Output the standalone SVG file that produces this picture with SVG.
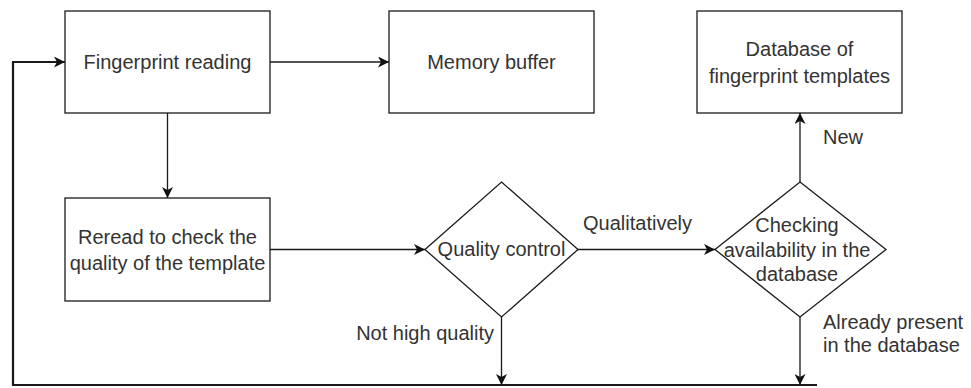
<svg xmlns="http://www.w3.org/2000/svg" width="971" height="388" viewBox="0 0 971 388">
  <style>
    .box { fill: #ffffff; stroke: #1a1a1a; stroke-width: 1.3; }
    .lbl { font-family: "Liberation Sans", Arial, sans-serif; font-size: 20px; fill: #333333; }
    .mid { text-anchor: middle; }
    .end { text-anchor: end; }
    .edge { fill: none; stroke: #1a1a1a; stroke-width: 1.3; }
    .loop { fill: none; stroke: #1a1a1a; stroke-width: 2.2; }
  </style>
  <defs>
    <marker id="arrow" markerUnits="userSpaceOnUse" markerWidth="12" markerHeight="11" refX="11" refY="5.5" orient="auto">
      <path d="M0,0 L11,5.5 L0,11 L3,5.5 Z" fill="#111111"/>
    </marker>
  </defs>

  <!-- process boxes -->
  <g id="fingerprint-reading">
    <rect class="box" x="65" y="11" width="205" height="102"/>
    <text class="lbl mid" x="167.5" y="69">Fingerprint reading</text>
  </g>
  <g id="memory-buffer">
    <rect class="box" x="389" y="11" width="205" height="102"/>
    <text class="lbl mid" x="491.5" y="69">Memory buffer</text>
  </g>
  <g id="database">
    <rect class="box" x="697" y="11" width="205" height="102"/>
    <text class="lbl mid" x="799.5" y="56">Database of</text>
    <text class="lbl mid" x="799.5" y="83">fingerprint templates</text>
  </g>
  <g id="reread">
    <rect class="box" x="65" y="198" width="205" height="103"/>
    <text class="lbl mid" x="167.5" y="244">Reread to check the</text>
    <text class="lbl mid" x="167.5" y="270">quality of the template</text>
  </g>

  <!-- decisions -->
  <g id="quality-control">
    <polygon class="box" points="501.5,182 578,249.5 501.5,317 425,249.5"/>
    <text class="lbl mid" x="501.5" y="256">Quality control</text>
  </g>
  <g id="checking-availability">
    <polygon class="box" points="800,182 886,249.5 800,317 715,249.5"/>
    <text class="lbl mid" x="797" y="232">Checking</text>
    <text class="lbl mid" x="797" y="257">availability in the</text>
    <text class="lbl mid" x="797" y="281">database</text>
  </g>

  <!-- connectors -->
  <g id="connectors">
    <path class="edge" d="M270,62 L389,62" marker-end="url(#arrow)"/>
    <path class="edge" d="M167.5,113 L167.5,198" marker-end="url(#arrow)"/>
    <path class="edge" d="M270,249.5 L425,249.5" marker-end="url(#arrow)"/>
    <path class="edge" d="M578,249.5 L715,249.5" marker-end="url(#arrow)"/>
    <path class="edge" d="M800,182 L800,113" marker-end="url(#arrow)"/>
    <path class="edge" d="M501.5,317 L501.5,385" marker-end="url(#arrow)"/>
    <path class="edge" d="M800,317 L800,385" marker-end="url(#arrow)"/>
    <path class="loop" d="M817,385 L13,385 L13,62 L65,62" marker-end="url(#arrow)"/>

    <text class="lbl mid" x="637.5" y="230">Qualitatively</text>
    <text class="lbl" x="823" y="144">New</text>
    <text class="lbl end" x="494" y="340">Not high quality</text>
    <text class="lbl" x="823" y="329">Already present</text>
    <text class="lbl" x="823" y="352">in the database</text>
  </g>
</svg>
